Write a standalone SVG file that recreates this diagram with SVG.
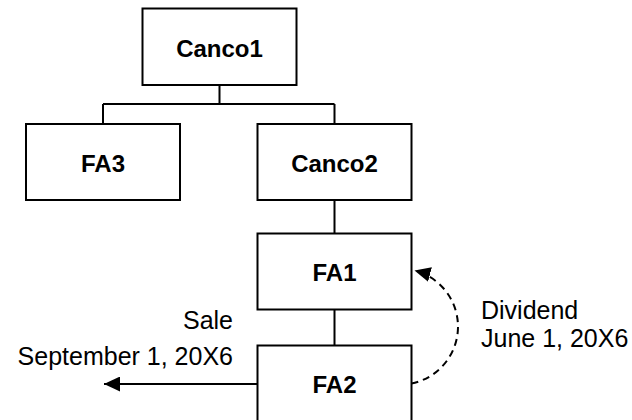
<svg xmlns="http://www.w3.org/2000/svg" width="632" height="420" viewBox="0 0 632 420">
<style>
.box{fill:#fff;stroke:#000;stroke-width:2}
.lbl{font-family:"Liberation Sans",Arial,sans-serif;font-weight:bold;font-size:24px;text-anchor:middle;fill:#000}
.txt{font-family:"Liberation Sans",Arial,sans-serif;font-size:25px;fill:#000}
.ln{fill:none;stroke:#000;stroke-width:2}
</style>
<defs>
<marker id="ah" markerWidth="16" markerHeight="15" refX="16" refY="7.5" orient="auto" markerUnits="userSpaceOnUse">
<path d="M0,0 L16,7.5 L0,15 Z" fill="#000"/>
</marker>
</defs>
<rect width="632" height="420" fill="#fff"/>
<g id="connectors">
<path class="ln" d="M219.5,85 V104 M103,104 H334.5 M103,104 V124 M334.5,104 V124 M334.5,200 V233.5 M334.5,309.5 V345.5"/>
<path class="ln" d="M257.5,384 H104" marker-end="url(#ah)"/>
<path class="ln" stroke-dasharray="7,5" d="M411.5,383.5 A58 58 0 0 0 414.5,270.5" marker-end="url(#ah)"/>
</g>
<g id="canco1"><rect class="box" x="142.5" y="8.5" width="154" height="76.5"/><text class="lbl" x="219.5" y="56.5">Canco1</text></g>
<g id="fa3"><rect class="box" x="26" y="124" width="154" height="76"/><text class="lbl" x="103" y="171.5">FA3</text></g>
<g id="canco2"><rect class="box" x="257.5" y="124" width="154" height="76"/><text class="lbl" x="334.5" y="171.5">Canco2</text></g>
<g id="fa1"><rect class="box" x="257.5" y="233.5" width="154" height="76"/><text class="lbl" x="334.5" y="280.5">FA1</text></g>
<g id="fa2"><rect class="box" x="257.5" y="345.5" width="154" height="78"/><text class="lbl" x="334.5" y="393">FA2</text></g>
<g id="sale-label"><text class="txt" text-anchor="end" x="233" y="329" font-size="26">Sale</text><text class="txt" text-anchor="end" x="233" y="365" font-size="26">September 1, 20X6</text></g>
<g id="dividend-label"><text class="txt" x="481" y="319">Dividend</text><text class="txt" x="481" y="346.5">June 1, 20X6</text></g>
</svg>
